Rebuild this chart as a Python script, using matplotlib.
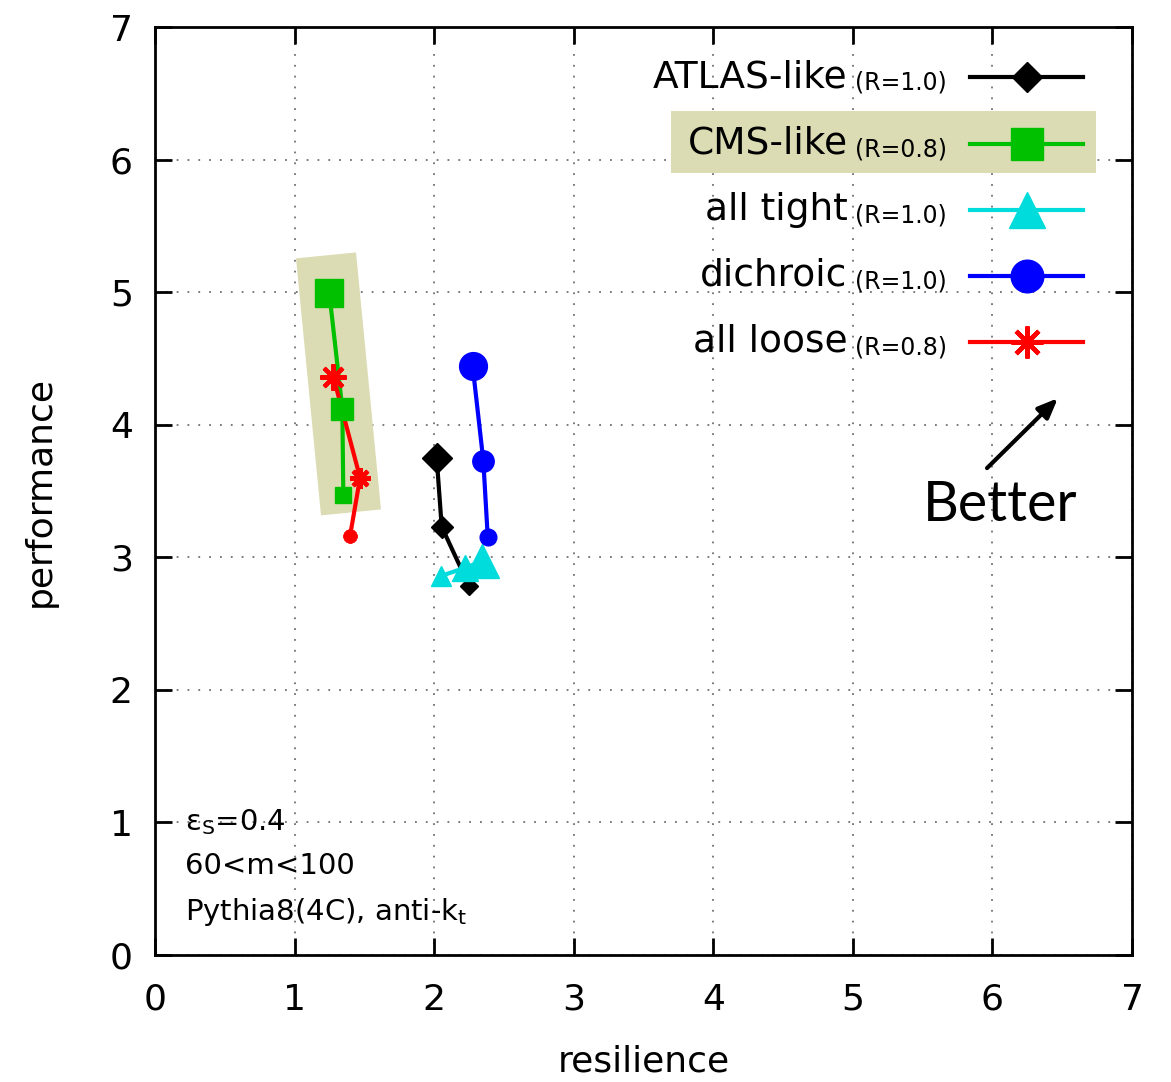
import matplotlib
matplotlib.use("Agg")
import matplotlib.pyplot as plt
from matplotlib.lines import Line2D
from matplotlib.patches import Polygon, Rectangle

# data (resilience, performance), first point = largest marker
atlas_x = [2.018, 2.054, 2.252]
atlas_y = [3.75, 3.23, 2.78]
cms_x = [1.249, 1.342, 1.349]
cms_y = [4.99, 4.12, 3.47]
tight_x = [2.34, 2.22, 2.05]
tight_y = [2.97, 2.92, 2.86]
dich_x = [2.276, 2.352, 2.384]
dich_y = [4.44, 3.73, 3.15]
loose_x = [1.278, 1.469, 1.397]
loose_y = [4.36, 3.60, 3.16]

names = ["ATLAS-like", "CMS-like", "all tight", "dichroic", "all loose"]
radii = ["(R=1.0)", "(R=0.8)", "(R=1.0)", "(R=1.0)", "(R=0.8)"]

# highlight band around CMS-like points
band_x = [1.01, 1.44, 1.619, 1.189]
band_y = [5.255, 5.30, 3.361, 3.316]

tan = "#dcdcb4"
green = "#00c000"
cyan = "#00dcdc"
star = (8, 2, 0)

series = [
    (atlas_x, atlas_y, "black", "D", [15.3, 11.5, 8.8], 15.6),
    (cms_x, cms_y, green, "s", [20, 15.6, 11.5], 23.5),
    (tight_x, tight_y, cyan, "^", [24, 19, 14.5], 26),
    (dich_x, dich_y, "blue", "o", [20, 15.4, 12], 23.5),
    (loose_x, loose_y, "red", star, [19, 15, 10], 23),
]

fig = plt.figure(figsize=(11.71, 10.82), dpi=100)
ax = fig.add_axes([0.1324, 0.1174, 0.8343, 0.8576])

ax.add_patch(Polygon(list(zip(band_x, band_y)), closed=True, facecolor=tan,
                     edgecolor="none", zorder=1))

for xs, ys, col, mk, sizes, lsz in series:
    ax.plot(xs, ys, color=col, lw=3, zorder=3)
    for x, y, s in zip(xs, ys, sizes):
        if mk == star:
            ax.plot([x], [y], marker=mk, ms=s, mec=col, mew=3.0, ls="none", zorder=4)
        else:
            ax.plot([x], [y], marker=mk, ms=s, color=col, mec=col, ls="none", zorder=4)

# hand-made legend
rows = [0.946, 0.874, 0.803, 0.732, 0.661]
ax.add_patch(Rectangle((0.528, 0.843), 0.435, 0.066, transform=ax.transAxes,
                       facecolor=tan, edgecolor="none", zorder=2))
for (xs, ys, col, mk, sizes, lsz), yr, nm, rr in zip(series, rows, names, radii):
    ax.add_line(Line2D([0.834, 0.950], [yr, yr], transform=ax.transAxes,
                       color=col, lw=3, zorder=5))
    if mk == star:
        ax.add_line(Line2D([0.8925], [yr], transform=ax.transAxes, marker=mk,
                           ms=lsz, mec=col, mew=3.2, ls="none", zorder=6))
    else:
        ax.add_line(Line2D([0.8925], [yr], transform=ax.transAxes, marker=mk,
                           ms=lsz, color=col, mec=col, ls="none", zorder=6))
    ax.text(0.709, yr, nm, transform=ax.transAxes, ha="right", va="center",
            fontsize=27, zorder=6)
    ax.text(0.7165, yr - 0.006, rr, transform=ax.transAxes, ha="left",
            va="center", fontsize=17, zorder=6)

# "Better" arrow
ax.annotate("", xy=(6.483, 4.215), xytext=(5.947, 3.658),
            arrowprops=dict(arrowstyle="-|>,head_length=1.2,head_width=0.5",
                            color="black", lw=3), zorder=6)
ax.text(6.054, 3.39, "Better", ha="center", va="center", fontsize=40,
        family="Lato", zorder=6)

# info text
ax.text(0.031, 0.143, "ε$_\\mathrm{S}$=0.4", transform=ax.transAxes,
        fontsize=21, va="center", ha="left")
ax.text(0.031, 0.096, "60<m<100", transform=ax.transAxes,
        fontsize=21, va="center", ha="left")
ax.text(0.031, 0.046, "Pythia8(4C), anti-k$_\\mathrm{t}$", transform=ax.transAxes,
        fontsize=21, va="center", ha="left")

ax.set_xlim(0, 7)
ax.set_ylim(0, 7)
ax.set_xticks(range(8))
ax.set_yticks(range(8))
ax.tick_params(direction="in", length=12, width=2, top=True, right=True,
               labelsize=26, pad=16)
ax.tick_params(axis="x", pad=20)
for sp in ax.spines.values():
    sp.set_linewidth(2)
ax.grid(True, color="#707070", linestyle=(0, (1, 5)), lw=1.3)
ax.set_axisbelow(True)

ax.set_xlabel("resilience", fontsize=26, labelpad=20)
ax.set_ylabel("performance", fontsize=26, labelpad=38)

fig.savefig("out.png", dpi=100)
